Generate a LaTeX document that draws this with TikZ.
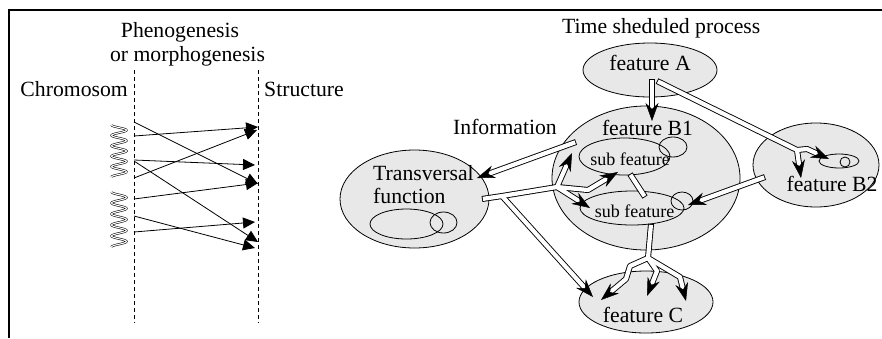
\documentclass[tikz,border=0pt]{standalone}
\usepackage{fontspec}
\setmainfont{Liberation Serif}
\usetikzlibrary{arrows.meta,calc,shapes.geometric}
\definecolor{blobgray}{RGB}{232,232,232}
\newcommand\bigtxt{\fontsize{21.7pt}{24pt}\selectfont}
\newcommand\subtxt{\fontsize{18pt}{20pt}\selectfont}
\newcommand\hollowtip[2]{\draw[hollowtipst] ($(#2)!12pt!(#1)$) -- (#2);}
\begin{document}
\begin{tikzpicture}[x=1pt,y=-1pt,
  blob/.style={ellipse, draw, fill=blobgray, line width=0.8pt, inner sep=0pt},
  minorring/.style={ellipse, draw, line width=0.8pt, inner sep=0pt},
  lbl/.style={font=\bigtxt, inner sep=0pt, anchor=base},
  sublbl/.style={font=\subtxt, inner sep=0pt, anchor=base},
  guideline/.style={dash pattern=on 4pt off 3pt, line width=0.8pt},
  genlink/.style={line width=0.8pt, -{Triangle[length=12pt,width=11pt]}},
  hout/.style={line width=6pt, draw=black, line join=round},
  hin/.style={line width=4.2pt, draw=white, line join=round},
  hollowtipst/.style={line width=0.5pt, -{Stealth[length=18pt,width=13pt,inset=6pt]}},
  spring/.style={line width=0.55pt, double, double distance=1.1pt},
  panelframe/.style={line width=1.2pt}
]
\useasboundingbox (0,0) rectangle (882,338);

% frame
\coordinate (fr1) at (9,338);
\coordinate (fr2) at (9,10);
\coordinate (fr3) at (882,10);
\draw[panelframe] (fr1) -- (fr2) -- (fr3);

% ---------- left panel ----------
\node[lbl] (phen1) at (180,37) {Phenogenesis};
\node[lbl] (phen2) at (187.5,61) {or morphogenesis};
\node[lbl, anchor=base east] (chrom) at (128,96) {Chromosom};
\node[lbl, anchor=base west] (struct) at (264,96) {Structure};

\coordinate (g1t) at (134,70);  \coordinate (g1b) at (134,323);
\coordinate (g2t) at (258,70);  \coordinate (g2b) at (258,323);
\draw[guideline] (g1t) -- (g1b);
\draw[guideline] (g2t) -- (g2b);

% chromosome coils
\coordinate (c1t) at (119,125);
\coordinate (c2t) at (119,192);
\draw[spring, shift={(c1t)}] plot[domain=0:52, samples=120, smooth] ({-7.5*cos(\x/10.4*360)}, {\x});
\draw[spring, shift={(c2t)}] plot[domain=0:55, samples=120, smooth] ({-7.5*cos(\x/11*360)}, {\x});

\coordinate (s1) at (134,122); \coordinate (e1) at (258,184);
\coordinate (s2) at (134,136); \coordinate (e2) at (258,127);
\coordinate (s3) at (134,160); \coordinate (e3) at (255,165);
\coordinate (s4) at (134,161); \coordinate (e4) at (258,242);
\coordinate (s5) at (134,178); \coordinate (e5) at (257,130);
\coordinate (s6) at (134,199); \coordinate (e6) at (258,183);
\coordinate (s7) at (134,216); \coordinate (e7) at (255,248);
\coordinate (s8) at (134,232); \coordinate (e8) at (255,222);
\foreach \i in {1,...,8} \draw[genlink] (s\i) -- (e\i);

% ---------- right panel ----------
\node[blob, minimum width=134pt, minimum height=54pt] (featA) at (650,70) {};
\node[blob, minimum width=188pt, minimum height=144pt] (featB1) at (646,178) {};
\node[blob, minimum width=126pt, minimum height=84pt] (featB2) at (816,165) {};
\node[blob, minimum width=149pt, minimum height=98pt] (transv) at (414.5,199) {};
\node[blob, minimum width=134pt, minimum height=62pt] (featC) at (646,302) {};
\node[blob, minimum width=91pt, minimum height=37pt] (subA) at (624.5,156.5) {};
\node[blob, minimum width=104pt, minimum height=34pt] (subB) at (632,208) {};
\node[minorring, minimum width=28pt, minimum height=20pt] (ringA) at (673,147) {};
\node[minorring, minimum width=22pt, minimum height=18pt] (ringB) at (682,201) {};
\node[minorring, minimum width=40pt, minimum height=14pt] (b2in) at (839,161) {};
\node[minorring, minimum width=10pt, minimum height=10pt] (b2dot) at (845,162) {};
\node[minorring, minimum width=73pt, minimum height=30pt] (tvin) at (406.5,224) {};
\node[minorring, minimum width=27pt, minimum height=21pt] (tvring) at (443.5,222.5) {};

\node[lbl, anchor=base west] (timesp) at (562,33) {Time sheduled process};
\node[lbl] (tA) at (650,70) {feature A};
\node[lbl] (tB1) at (647.5,135) {feature B1};
\node[lbl] (tinfo) at (505,134) {Information};
\node[lbl, anchor=base west] (tTr) at (373,180) {Transversal};
\node[lbl, anchor=base west] (tFn) at (373,203) {function};
\node[sublbl] (tsubA) at (630,165) {sub feature};
\node[sublbl] (tsubB) at (634.5,217) {sub feature};
\node[lbl] (tB2) at (832,191) {feature B2};
\node[lbl] (tC) at (643,322) {feature C};

% hollow connector coordinates
\coordinate (ha0) at (652,79);  \coordinate (haE) at (652,121);
\coordinate (hb0) at (657,81);  \coordinate (hbJ) at (797,150);
\coordinate (hb1) at (807,149); \coordinate (hb1E) at (829,159);
\coordinate (hb2E) at (801,178);
\coordinate (hc0) at (765,177); \coordinate (hcE) at (688,205);
\coordinate (hd0) at (576,142); \coordinate (hdE) at (477,178);
\coordinate (he0) at (482,199); \coordinate (heJ) at (502,196);
\coordinate (heU) at (557,187); \coordinate (heUpE) at (572,153);
\coordinate (heR1) at (588,190); \coordinate (heRE) at (618,172);
\coordinate (heDE) at (590,208); \coordinate (heCE) at (593,297);
\coordinate (hf0) at (651,224); \coordinate (hfJ) at (648,258);
\coordinate (hfL1) at (630,266); \coordinate (hfL2) at (626,279);
\coordinate (hfLE) at (601,300);
\coordinate (hfM1) at (657,271); \coordinate (hfME) at (647,296);
\coordinate (hfR1) at (680,277); \coordinate (hfRE) at (686,301);
\coordinate (hg0) at (630,174); \coordinate (hg1) at (645,197);

% outer pass
\draw[hout, shorten >=12pt] (ha0) -- (haE);
\draw[hout, shorten >=12pt] (hb0) -- (hbJ) -- (hb1) -- (hb1E);
\draw[hout, shorten >=12pt] (hbJ) -- (hb2E);
\draw[hout, shorten >=12pt] (hc0) -- (hcE);
\draw[hout, shorten >=12pt] (hd0) -- (hdE);
\draw[hout, shorten >=12pt] (he0) -- (heJ) -- (heU) -- (heR1) -- (heRE);
\draw[hout, shorten >=12pt] (heU) -- (heUpE);
\draw[hout, shorten >=12pt] (heU) -- (heDE);
\draw[hout, shorten >=12pt] (heJ) -- (heCE);
\draw[hout, shorten >=12pt] (hf0) -- (hfJ) -- (hfM1) -- (hfME);
\draw[hout, shorten >=12pt] (hfJ) -- (hfL1) -- (hfL2) -- (hfLE);
\draw[hout, shorten >=12pt] (hfJ) -- (hfR1) -- (hfRE);
\draw[hout] (hg0) -- (hg1);

% inner pass
\draw[hin, shorten >=12pt, shorten <=0.9pt] (ha0) -- (haE);
\draw[hin, shorten >=12pt, shorten <=0.9pt] (hb0) -- (hbJ) -- (hb1) -- (hb1E);
\draw[hin, shorten >=12pt] (hbJ) -- (hb2E);
\draw[hin, shorten >=12pt, shorten <=0.9pt] (hc0) -- (hcE);
\draw[hin, shorten >=12pt, shorten <=0.9pt] (hd0) -- (hdE);
\draw[hin, shorten >=12pt, shorten <=0.9pt] (he0) -- (heJ) -- (heU) -- (heR1) -- (heRE);
\draw[hin, shorten >=12pt] (heU) -- (heUpE);
\draw[hin, shorten >=12pt] (heU) -- (heDE);
\draw[hin, shorten >=12pt] (heJ) -- (heCE);
\draw[hin, shorten >=12pt, shorten <=0.9pt] (hf0) -- (hfJ) -- (hfM1) -- (hfME);
\draw[hin, shorten >=12pt] (hfJ) -- (hfL1) -- (hfL2) -- (hfLE);
\draw[hin, shorten >=12pt] (hfJ) -- (hfR1) -- (hfRE);
\draw[hin, shorten >=0.9pt, shorten <=0.9pt] (hg0) -- (hg1);

% tips
\hollowtip{ha0}{haE}
\hollowtip{hb1}{hb1E}
\hollowtip{hbJ}{hb2E}
\hollowtip{hc0}{hcE}
\hollowtip{hd0}{hdE}
\hollowtip{heR1}{heRE}
\hollowtip{heU}{heUpE}
\hollowtip{heU}{heDE}
\hollowtip{heJ}{heCE}
\hollowtip{hfM1}{hfME}
\hollowtip{hfL2}{hfLE}
\hollowtip{hfR1}{hfRE}
\end{tikzpicture}
\end{document}
